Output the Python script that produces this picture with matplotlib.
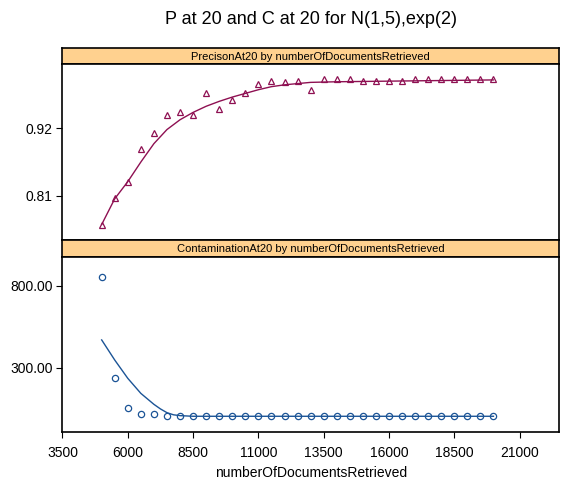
import matplotlib
matplotlib.use("Agg")
import matplotlib.pyplot as plt

plt.rcParams['font.family'] = ['Liberation Sans', 'DejaVu Sans']

# data
n_docs = list(range(5000, 20001, 500))
precision = [0.762, 0.806, 0.832, 0.887, 0.912, 0.941, 0.947, 0.942, 0.977, 0.952,
             0.967, 0.977, 0.992, 0.997, 0.996, 0.997, 0.982, 1.0, 1.0, 1.0,
             0.997, 0.997, 0.997, 0.997, 1.0, 1.0, 1.0, 1.0, 1.0, 1.0, 1.0]
contamination = [853, 235, 55, 15, 17, 6, 3, 3, 3, 3,
                 3, 3, 3, 3, 3, 3, 3, 3, 3, 3,
                 3, 3, 3, 3, 3, 3, 3, 3, 3, 3, 3]

# smoother curves (loess) as drawn in the reference
prec_smooth_x = [5000, 5500, 6000, 6500, 7000, 7500, 8000, 8500, 9000, 9500, 10000,
                 10500, 11000, 11500, 12000, 12500, 13000, 14000, 16000, 20000]
prec_smooth_y = [0.763, 0.805, 0.833, 0.865, 0.895, 0.918, 0.934, 0.946, 0.956,
                 0.964, 0.971, 0.977, 0.983, 0.988, 0.991, 0.993, 0.995, 0.996,
                 0.997, 0.999]
cont_smooth_x = [5000, 5500, 6000, 6500, 7000, 7250, 7500, 7750, 8000, 8500, 20000]
cont_smooth_y = [470, 347, 235, 143, 76, 48, 25, 12, 7, 3, 3]

title = "P at 20 and C at 20 for N(1,5),exp(2)"
strip_top = "PrecisonAt20 by numberOfDocumentsRetrieved"
strip_bottom = "ContaminationAt20 by numberOfDocumentsRetrieved"
x_ticks = [3500, 6000, 8500, 11000, 13500, 16000, 18500, 21000]

W, H = 564, 482
fig = plt.figure(figsize=(W / 100, H / 100), dpi=100)

left = 62.5 / W
width = (559 - 62.5) / W


def box(top_px, bottom_px):
    return [left, 1 - bottom_px / H, width, (bottom_px - top_px) / H]


strip_col = '#FFD18F'
red = '#8E1052'
blue = '#1B5496'


def make_strip(top_px, bottom_px, text):
    s = fig.add_axes(box(top_px, bottom_px))
    s.set_facecolor(strip_col)
    s.set_xticks([])
    s.set_yticks([])
    for sp in s.spines.values():
        sp.set_linewidth(1.2)
    s.text(0.5, 0.45, text, ha='center', va='center', fontsize=8,
           transform=s.transAxes)


def style_panel(ax):
    for sp in ax.spines.values():
        sp.set_linewidth(1.2)
    ax.tick_params(axis='both', direction='out', length=4, width=0.8,
                   labelsize=10, pad=3, top=False, right=False)
    ax.tick_params(axis='x', pad=6)


xlim = (3500, 22510)

# top panel
make_strip(48.3, 64.3, strip_top)
ax1 = fig.add_axes(box(64.3, 240))
ax1.plot(n_docs, precision, linestyle='none', marker='^', ms=4.8, mfc='none',
         mec=red, mew=0.9)
ax1.plot(prec_smooth_x, prec_smooth_y, color=red, lw=1.0)
ax1.set_xlim(xlim)
ax1.set_ylim(0.7377, 1.0245)
ax1.set_yticks([0.81, 0.92])
ax1.set_yticklabels(['0.81', '0.92'])
ax1.set_xticks([])
style_panel(ax1)

# bottom panel
make_strip(240, 256.7, strip_bottom)
ax2 = fig.add_axes(box(256.7, 432.3))
ax2.plot(n_docs, contamination, linestyle='none', marker='o', ms=4.5, mfc='none',
         mec=blue, mew=0.9)
ax2.plot(cont_smooth_x, cont_smooth_y, color=blue, lw=1.0)
ax2.set_xlim(xlim)
ax2.set_ylim(-95, 979)
ax2.set_yticks([300, 800])
ax2.set_yticklabels(['300.00', '800.00'])
ax2.set_xticks(x_ticks)
ax2.set_xticklabels([str(v) for v in x_ticks])
ax2.set_xlabel('numberOfDocumentsRetrieved', fontsize=10, labelpad=4)
style_panel(ax2)

fig.text((62.5 + 559) / 2 / W, 1 - 19 / H, title, ha='center', va='center',
         fontsize=13)

fig.savefig('out.png', dpi=100)
